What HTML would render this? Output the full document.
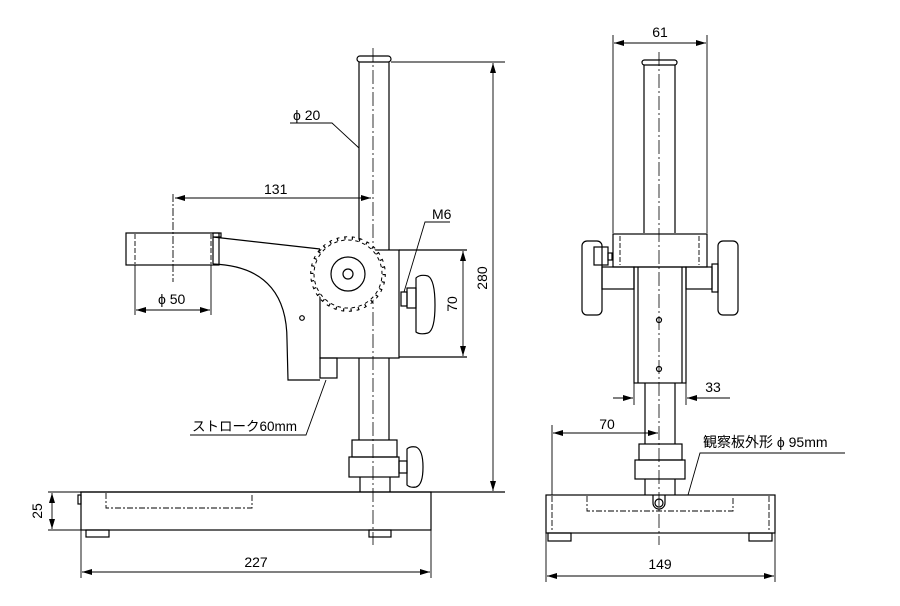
<!DOCTYPE html>
<html><head><meta charset="utf-8"><style>
html,body{margin:0;padding:0;background:#fff}
svg{display:block}
text{font-family:"Liberation Sans","Noto Sans CJK JP",sans-serif;font-size:14px;fill:#000}
</style></head><body>
<svg width="900" height="606" viewBox="0 0 900 606" xmlns="http://www.w3.org/2000/svg">
<defs>
<marker id="a" viewBox="0 0 10 6" refX="10" refY="3" markerWidth="10" markerHeight="6" orient="auto-start-reverse" markerUnits="userSpaceOnUse"><path d="M0,0 L10,3 L0,6 z" fill="#000"/></marker>
</defs>
<g fill="none" stroke="#000" stroke-width="1.2">
<rect x="357" y="56" width="34" height="6" rx="3" fill="#fff"/>
<line x1="359" y1="62" x2="359" y2="250"/><line x1="389" y1="62" x2="389" y2="250"/>
<line x1="359" y1="358" x2="359" y2="440"/><line x1="389" y1="358" x2="389" y2="440"/>
<line x1="360" y1="477" x2="360" y2="492"/><line x1="390" y1="477" x2="390" y2="492"/>
<line x1="373" y1="48" x2="373" y2="545" stroke-width="0.8" stroke-dasharray="14,3,2,3"/>
<rect x="352" y="440" width="45" height="17"/>
<rect x="349" y="457" width="50" height="20"/>
<rect x="399" y="461" width="8" height="12"/>
<path d="M407,449 Q410,446 416,447 Q423,450 423,467 Q423,485 416,487 Q410,488 407,485 z"/>
<line x1="80" y1="492" x2="505" y2="492"/>
<rect x="81" y="492" width="350" height="38"/>
<rect x="78" y="495" width="3" height="9"/>
<path d="M106,493 V508 H252 V493" stroke-dasharray="6,2,2,2" stroke-width="0.9"/>
<rect x="86" y="530" width="23" height="7"/>
<rect x="369" y="530" width="22" height="7"/>
<rect x="126" y="233" width="93" height="32"/>
<line x1="135" y1="234" x2="135" y2="264" stroke-dasharray="5,2" stroke-width="0.9"/>
<line x1="211" y1="234" x2="211" y2="264" stroke-dasharray="5,2" stroke-width="0.9"/>
<rect x="213" y="233" width="8" height="4"/>
<line x1="173" y1="194" x2="173" y2="282" stroke-dasharray="8,2,2,2" stroke-width="0.9"/>
<path d="M213,237 L320,249"/>
<path d="M213,264 C270,266 287,300 287,340 L288,380 L320,380"/>
<line x1="213" y1="237" x2="213" y2="264"/>
<rect x="320" y="250" width="79" height="108"/>
<rect x="320" y="358" width="17" height="20"/>
<line x1="399" y1="250" x2="467" y2="250"/>
<line x1="399" y1="357" x2="467" y2="357"/>
<circle cx="302" cy="318" r="2.3"/>
<circle cx="348" cy="274" r="36" fill="#fff" stroke="none"/>
<circle cx="348" cy="274" r="36" stroke-dasharray="1.2,6.33" stroke-width="3"/>
<circle cx="348" cy="274" r="37.3" stroke-dasharray="3,4.8" stroke-width="1"/>
<circle cx="348" cy="274" r="34" stroke-dasharray="3.5,3.62" stroke-dashoffset="3.6" stroke-width="1"/>
<circle cx="348" cy="274" r="17"/>
<circle cx="348" cy="274" r="5"/>
<rect x="401" y="292" width="6" height="14"/>
<rect x="407" y="288" width="9" height="20"/>
<path d="M416,278 Q420,274 428,276 Q435,280 435,305 Q435,330 428,333 Q420,335 416,332 z"/>
<line x1="175" y1="198" x2="371" y2="198" marker-start="url(#a)" marker-end="url(#a)" stroke-width="0.9"/>
<line x1="135" y1="265" x2="135" y2="315" stroke-width="0.9"/>
<line x1="211" y1="265" x2="211" y2="315" stroke-width="0.9"/>
<line x1="136" y1="310" x2="210" y2="310" marker-start="url(#a)" marker-end="url(#a)" stroke-width="0.9"/>
<line x1="391" y1="62" x2="505" y2="62" stroke-width="0.9"/>
<line x1="493" y1="63" x2="493" y2="491" marker-start="url(#a)" marker-end="url(#a)" stroke-width="0.9"/>
<line x1="463" y1="251" x2="463" y2="356" marker-start="url(#a)" marker-end="url(#a)" stroke-width="0.9"/>
<line x1="48" y1="492" x2="81" y2="492" stroke-width="0.9"/>
<line x1="48" y1="530" x2="81" y2="530" stroke-width="0.9"/>
<line x1="52" y1="493" x2="52" y2="529" marker-start="url(#a)" marker-end="url(#a)" stroke-width="0.9"/>
<line x1="81" y1="530" x2="81" y2="578" stroke-width="0.9"/>
<line x1="431" y1="530" x2="431" y2="578" stroke-width="0.9"/>
<line x1="82" y1="572" x2="430" y2="572" marker-start="url(#a)" marker-end="url(#a)" stroke-width="0.9"/>
<path d="M290,123 H332 L359,148" stroke-width="0.9"/>
<path d="M450,222 H425 L404,292" stroke-width="0.9"/>
<path d="M190,435 H306 L326,380" stroke-width="0.9"/>

<rect x="642" y="60" width="35" height="5" rx="2.5"/>
<line x1="644" y1="65" x2="644" y2="233"/><line x1="675" y1="65" x2="675" y2="233"/>
<line x1="659" y1="52" x2="659" y2="545" stroke-width="0.8" stroke-dasharray="14,3,2,3"/>
<line x1="613" y1="35" x2="613" y2="233" stroke-width="0.9"/>
<line x1="707" y1="35" x2="707" y2="233" stroke-width="0.9"/>
<line x1="614" y1="43" x2="706" y2="43" marker-start="url(#a)" marker-end="url(#a)" stroke-width="0.9"/>
<rect x="613" y="234" width="94" height="33"/>
<line x1="620" y1="236" x2="620" y2="265" stroke-dasharray="5,2" stroke-width="0.9"/>
<line x1="699" y1="236" x2="699" y2="265" stroke-dasharray="5,2" stroke-width="0.9"/>
<rect x="634" y="267" width="52" height="116"/>
<line x1="638" y1="267" x2="638" y2="383"/><line x1="682" y1="267" x2="682" y2="383"/>
<circle cx="659" cy="320" r="2.5"/><circle cx="659" cy="369" r="2.5"/>
<rect x="582" y="241" width="20" height="74" rx="5"/>
<rect x="602" y="267" width="32" height="22"/>
<rect x="594" y="247" width="14" height="18"/>
<rect x="608" y="253" width="4" height="7"/>
<rect x="718" y="241" width="20" height="74" rx="5"/>
<rect x="686" y="267" width="26" height="22"/>
<rect x="712" y="264" width="6" height="28"/>
<line x1="645" y1="383" x2="645" y2="444"/><line x1="675" y1="383" x2="675" y2="444"/>
<rect x="639" y="444" width="43" height="16"/>
<rect x="635" y="460" width="50" height="19"/>
<line x1="645" y1="479" x2="645" y2="495"/><line x1="675" y1="479" x2="675" y2="495"/>
<rect x="546" y="495" width="229" height="38"/>
<path d="M587,496 V511 H733 V496" stroke-dasharray="6,2,2,2" stroke-width="0.9"/>
<line x1="552" y1="496" x2="552" y2="530" stroke-dasharray="6,2" stroke-width="0.9"/>
<line x1="769" y1="496" x2="769" y2="530" stroke-dasharray="6,2" stroke-width="0.9"/>
<path d="M653,495 V503 A6,6 0 0 0 665,503 V495"/>
<circle cx="659" cy="503" r="4"/>
<rect x="548" y="533" width="23" height="8"/>
<rect x="749" y="533" width="23" height="8"/>
<line x1="546" y1="533" x2="546" y2="582" stroke-width="0.9"/>
<line x1="775" y1="533" x2="775" y2="582" stroke-width="0.9"/>
<line x1="547" y1="576" x2="774" y2="576" marker-start="url(#a)" marker-end="url(#a)" stroke-width="0.9"/>
<line x1="552" y1="425" x2="552" y2="495" stroke-width="0.9"/>
<line x1="553" y1="433" x2="658" y2="433" marker-start="url(#a)" marker-end="url(#a)" stroke-width="0.9"/>
<line x1="634" y1="383" x2="634" y2="405" stroke-width="0.9"/>
<line x1="686" y1="383" x2="686" y2="405" stroke-width="0.9"/>
<line x1="613" y1="398" x2="633" y2="398" marker-end="url(#a)" stroke-width="0.9"/>
<line x1="730" y1="398" x2="687" y2="398" marker-end="url(#a)" stroke-width="0.9"/>
<path d="M845,453 H700 L688,495" stroke-width="0.9"/>
</g>
<text x="293" y="120">ϕ 20</text>
<text x="264" y="194">131</text>
<text x="158" y="304">ϕ 50</text>
<text x="432" y="219">M6</text>
<text x="487" y="278" transform="rotate(-90 487 278)" text-anchor="middle">280</text>
<text x="457" y="304" transform="rotate(-90 457 304)" text-anchor="middle">70</text>
<text x="42" y="511" transform="rotate(-90 42 511)" text-anchor="middle">25</text>
<text x="256" y="567" text-anchor="middle">227</text>
<text x="192" y="431" style="font-size:13.5px">ストローク60mm</text>
<text x="660" y="37" text-anchor="middle">61</text>
<text x="607" y="429" text-anchor="middle">70</text>
<text x="713" y="392" text-anchor="middle">33</text>
<text x="660" y="569" text-anchor="middle">149</text>
<text x="703" y="447">観察板外形 ϕ 95mm</text>
</svg>
</body></html>
